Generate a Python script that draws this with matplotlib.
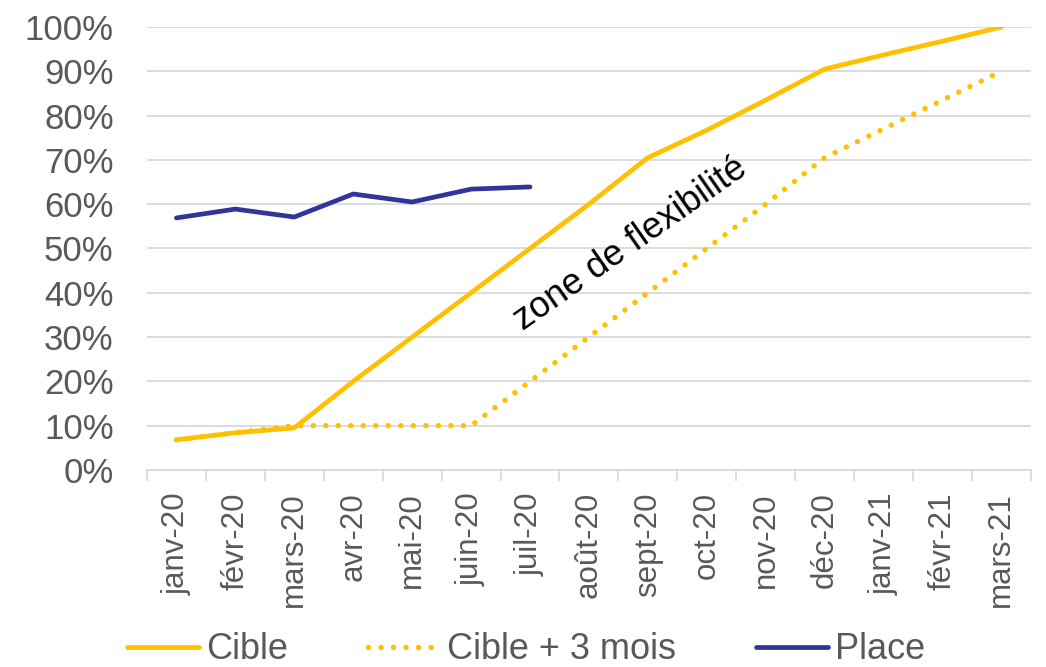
import matplotlib.pyplot as plt

months = ['janv-20', 'févr-20', 'mars-20', 'avr-20', 'mai-20', 'juin-20', 'juil-20',
          'août-20', 'sept-20', 'oct-20', 'nov-20', 'déc-20', 'janv-21', 'févr-21', 'mars-21']
cible = [0.068, 0.084, 0.095, 0.20, 0.30, 0.40, 0.50, 0.60, 0.705, 0.767, 0.835,
         0.905, 0.937, 0.968, 1.00]
cible_3m = [0.068, 0.084, 0.10, 0.10, 0.10, 0.10, 0.20, 0.30, 0.40, 0.50, 0.60,
            0.705, 0.77, 0.835, 0.90]
place = [0.569, 0.589, 0.571, 0.623, 0.605, 0.634, 0.639]

yellow = '#FFC000'
blue = '#333399'
grey_txt = '#595959'
grey_line = '#D9D9D9'

plt.rcParams['font.family'] = ['Liberation Sans', 'DejaVu Sans']

fig = plt.figure(figsize=(10.46, 6.67), dpi=100)
ax = fig.add_axes([0.1405, 0.2954, 0.845, 0.6641])

x = list(range(len(months)))
ax.plot(x, cible, color=yellow, lw=3.4, solid_capstyle='round', solid_joinstyle='round', label='Cible')
ax.plot(x, cible_3m, color=yellow, lw=3.9, linestyle=(0, (0.01, 2.3)),
        dash_capstyle='round', label='Cible + 3 mois')
ax.plot(x[:len(place)], place, color=blue, lw=3.4, solid_capstyle='round', solid_joinstyle='round',
        label='Place')

ax.text(7.7, 0.51, 'zone de flexibilité', rotation=35, fontsize=26, color='black',
        ha='center', va='center', rotation_mode='anchor')

ax.set_xlim(-0.5, len(months) - 0.5)
ax.set_ylim(0, 1)
ax.set_yticks([i / 10 for i in range(11)])
ax.set_yticklabels([f'{i * 10}%' for i in range(11)])
ax.set_xticks(x)
ax.set_xticklabels(months, rotation=90)
ax.set_xticks([i - 0.5 for i in range(len(months) + 1)], minor=True)

ax.tick_params(axis='y', length=0, pad=24, labelsize=25, labelcolor=grey_txt)
ax.tick_params(axis='x', which='major', length=0, pad=16, labelsize=22.5, labelcolor=grey_txt)
ax.tick_params(axis='x', which='minor', length=8, width=1.2, color=grey_line)

ax.grid(axis='y', color=grey_line, lw=1.3)
ax.set_axisbelow(True)
for s in ['top', 'right', 'left']:
    ax.spines[s].set_visible(False)
ax.spines['bottom'].set_color(grey_line)
ax.spines['bottom'].set_linewidth(1.3)

leg = fig.legend(loc='center', bbox_to_anchor=(0.503, 0.026), ncol=3, frameon=False,
                 fontsize=26, handlelength=2.0, handletextpad=0.2, columnspacing=2.2,
                 borderaxespad=0, borderpad=0)
for t in leg.get_texts():
    t.set_color(grey_txt)

fig.savefig('out.png', dpi=100)
